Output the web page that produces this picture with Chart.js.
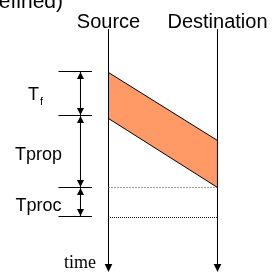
<!DOCTYPE html>
<html><head><meta charset="utf-8">
<script src="https://cdn.jsdelivr.net/npm/chart.js@4"></script>
<style>html,body{margin:0;padding:0;background:#fff}#wrap{width:272px;height:272px;position:relative}</style>
</head><body><div id="wrap"><canvas id="c" width="272" height="272"></canvas></div>
<script>
// ---- data ----
const stations = ['Source', 'Destination'];
const stationPos = [0, 1];
const timelineStart = -43;
const timelineEnd = 199.5;
const frameSourceTimes = [0, 46];   // first bit sent, last bit sent
const frameDestTimes = [68, 115];   // first bit received, last bit received
const refLineTimes = [115, 145];    // end of reception, end of processing
const intervalMarks = [-1, 43, 115, 144];
const intervalLabels = ['T', 'Tprop', 'Tproc'];
const intervalSubs = ['f', '', ''];
const axisLabel = 'time';
const cornerText = 'defined)';

// ---- layout constants ----
const annotX = -0.2569;
const tickL = -0.2018, tickR = 0.1055;
const ORANGE = '#FF9966';

function seg(x1, y1, x2, y2, extra) {
  return Object.assign({
    data: [{x: x1, y: y1}, {x: x2, y: y2}],
    showLine: true, borderColor: '#000', borderWidth: 1,
    pointRadius: 0, fill: false, tension: 0, borderCapStyle: 'butt'
  }, extra || {});
}

const datasets = [];
// frame edges (fill between them)
datasets.push(seg(stationPos[0], frameSourceTimes[0], stationPos[1], frameDestTimes[0]));
datasets.push(seg(stationPos[0], frameSourceTimes[1], stationPos[1], frameDestTimes[1], {fill: '-1', backgroundColor: ORANGE}));
// reference dotted lines
datasets.push(seg(stationPos[0], refLineTimes[0], stationPos[1], refLineTimes[0], {borderColor: '#9a9a9a', borderDash: [2, 1], borderDashOffset: 0.5}));
datasets.push(seg(stationPos[0], refLineTimes[1], stationPos[1], refLineTimes[1], {borderColor: '#111', borderDash: [1, 1], borderDashOffset: 0.5}));
// timelines
stationPos.forEach(p => datasets.push(seg(p, timelineStart, p, timelineEnd - 4)));
// annotation
datasets.push(seg(annotX, intervalMarks[0], annotX, intervalMarks[intervalMarks.length - 1]));
intervalMarks.forEach(m => datasets.push(seg(annotX + tickL, m, annotX + tickR, m)));

function tri(ctx, x, yTip, dir, hw, h) {
  ctx.beginPath();
  ctx.moveTo(x, yTip);
  ctx.lineTo(x - hw, yTip - dir * h);
  ctx.lineTo(x + hw, yTip - dir * h);
  ctx.closePath();
  ctx.fill();
}

const decor = {
  id: 'decor',
  afterDatasetsDraw(chart) {
    const ctx = chart.ctx, xs = chart.scales.x, ys = chart.scales.y;
    ctx.save();
    ctx.fillStyle = '#000';
    // timeline arrowheads
    stationPos.forEach(p => tri(ctx, xs.getPixelForValue(p), ys.getPixelForValue(timelineEnd), 1, 3.8, 8));
    // interval arrowheads
    const ax = xs.getPixelForValue(annotX);
    for (let i = 0; i < intervalMarks.length - 1; i++) {
      tri(ctx, ax, ys.getPixelForValue(intervalMarks[i]) + 0.5, -1, 3.5, 7);
      tri(ctx, ax, ys.getPixelForValue(intervalMarks[i + 1]) - 0.5, 1, 3.5, 7);
    }
    // headers
    ctx.textBaseline = 'alphabetic';
    ctx.textAlign = 'center';
    ctx.font = '20px "Liberation Sans", Arial, sans-serif';
    stations.forEach((s, i) => ctx.fillText(s, xs.getPixelForValue(stationPos[i]), ys.getPixelForValue(timelineStart) - 2));
    // interval labels
    for (let i = 0; i < intervalLabels.length; i++) {
      const mid = (ys.getPixelForValue(intervalMarks[i]) + ys.getPixelForValue(intervalMarks[i + 1])) / 2;
      const cx = ax - 42;
      ctx.font = '18px "Liberation Sans", Arial, sans-serif';
      const w1 = ctx.measureText(intervalLabels[i]).width;
      let w2 = 0;
      if (intervalSubs[i]) { ctx.font = '11px "Liberation Sans", Arial, sans-serif'; w2 = ctx.measureText(intervalSubs[i]).width + 1; }
      const left = cx - (w1 + w2) / 2 - (intervalSubs[i] ? 3 : 0);
      const base = mid + (intervalSubs[i] ? 6.5 : 8.5);
      ctx.textAlign = 'left';
      ctx.font = '18px "Liberation Sans", Arial, sans-serif';
      ctx.fillText(intervalLabels[i], left, base);
      if (intervalSubs[i]) {
        ctx.font = '11px "Liberation Sans", Arial, sans-serif';
        ctx.fillText(intervalSubs[i], left + w1 + 1, base + 5);
      }
    }
    // axis label
    ctx.textAlign = 'right';
    ctx.font = '18px "Liberation Serif", "Times New Roman", serif';
    ctx.fillText(axisLabel, xs.getPixelForValue(stationPos[0]) - 12.5, ys.getPixelForValue(timelineEnd) - 4);
    // corner text (cut off at top)
    ctx.font = '21px "Liberation Sans", Arial, sans-serif';
    ctx.fillText(cornerText, 63, 8);
    ctx.restore();
  }
};

new Chart(document.getElementById('c'), {
  type: 'scatter',
  data: {datasets},
  options: {
    responsive: false, animation: false, devicePixelRatio: 1,
    layout: {padding: 0},
    plugins: {legend: {display: false}, tooltip: {enabled: false}, filler: {drawTime: 'beforeDatasetsDraw'}},
    scales: {
      x: {type: 'linear', display: false, min: -0.9954, max: 1.5},
      y: {type: 'linear', display: false, min: -72.5, max: 199.5, reverse: true}
    }
  },
  plugins: [decor]
});
</script></body></html>
